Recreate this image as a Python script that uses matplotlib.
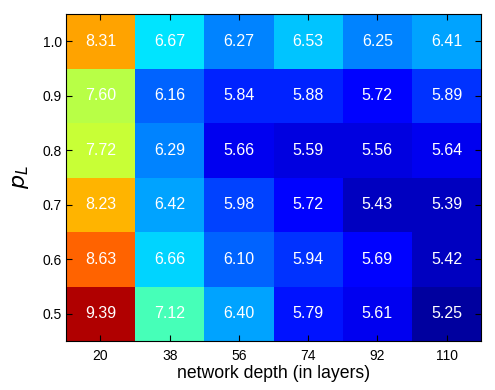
import matplotlib
matplotlib.use("Agg")
import matplotlib.pyplot as plt
from matplotlib.colors import LinearSegmentedColormap
import numpy as np

depths = [20, 38, 56, 74, 92, 110]
p_l = ["0.5", "0.6", "0.7", "0.8", "0.9", "1.0"]

# rows: p_L 0.5 .. 1.0 ; cols: depth 20 .. 110
err = np.array([
    [9.39, 7.12, 6.40, 5.79, 5.61, 5.25],
    [8.63, 6.66, 6.10, 5.94, 5.69, 5.42],
    [8.23, 6.42, 5.98, 5.72, 5.43, 5.39],
    [7.72, 6.29, 5.66, 5.59, 5.56, 5.64],
    [7.60, 6.16, 5.84, 5.88, 5.72, 5.89],
    [8.31, 6.67, 6.27, 6.53, 6.25, 6.41],
])

# MATLAB-style jet (differs slightly from matplotlib's)
mjet = LinearSegmentedColormap('mjet', {
    'red':   [(0, 0, 0), (3/8, 0, 0), (5/8, 1, 1), (7/8, 1, 1), (1, 0.5, 0.5)],
    'green': [(0, 0, 0), (1/8, 0, 0), (3/8, 1, 1), (5/8, 1, 1), (7/8, 0, 0), (1, 0, 0)],
    'blue':  [(0, 0.5, 0.5), (1/8, 1, 1), (3/8, 1, 1), (5/8, 0, 0), (1, 0, 0)],
}, N=64)

plt.rcParams['font.family'] = ['Liberation Sans', 'DejaVu Sans']

fig = plt.figure(figsize=(4.95, 3.9), dpi=100)
ax = fig.add_axes([0.133, 0.126, 0.839, 0.838])

ax.imshow(err, cmap=mjet, vmin=5.10, vmax=9.65,
          origin='lower', aspect='auto', interpolation='nearest')

for i in range(err.shape[0]):
    for j in range(err.shape[1]):
        ax.text(j, i, f"{err[i, j]:.2f}", ha='center', va='center',
                color='white', fontsize=11.5)

ax.set_xticks(range(len(depths)))
ax.set_xticklabels([str(d) for d in depths])
ax.set_yticks(range(len(p_l)))
ax.set_yticklabels(p_l)
ax.tick_params(direction='in', top=True, right=True, labelsize=10, length=4)
ax.tick_params(axis='x', pad=6)
ax.tick_params(axis='y', pad=3)
ax.set_xlabel("network depth (in layers)", fontsize=12.7, labelpad=1)
ax.set_ylabel("$p_L$", fontsize=16, labelpad=8)

fig.savefig("out.png", dpi=100)
